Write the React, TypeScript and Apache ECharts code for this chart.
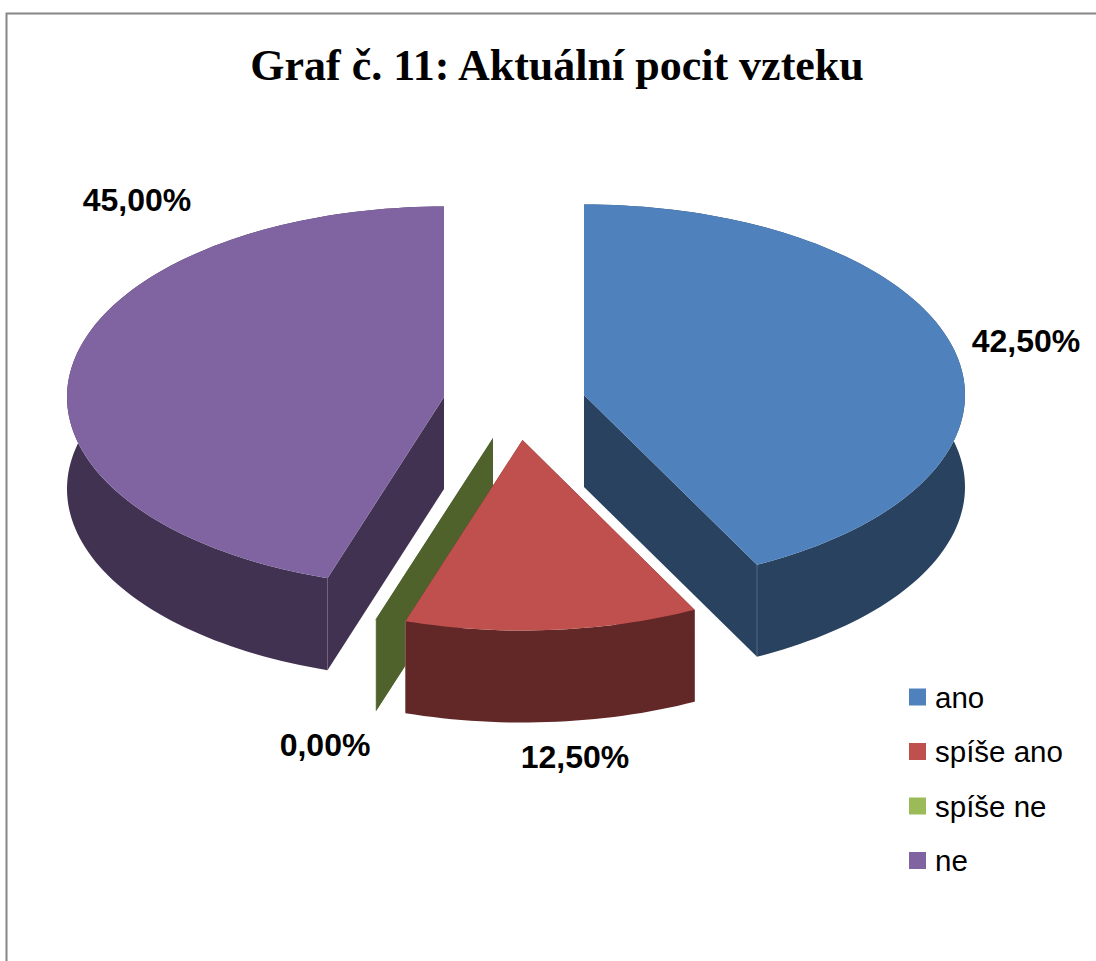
import React, { useEffect, useRef } from "react";
import * as echarts from "echarts";

const titleText = "Graf č. 11: Aktuální pocit vzteku";
const categories = ["ano", "spíše ano", "spíše ne", "ne"];
const shares = [42.5, 12.5, 0, 45];
const topColors = ["#4f81bd", "#c0504d", "#9bbb59", "#8064a2"];
const wallColors = ["#284260", "#622827", "#4f622c", "#423252"];
const apexes = [[584, 395], [522.5, 440], [493, 438], [444, 397]];
const radiiX = [381, 379, 379, 377];
const labelCenters = [[1026, 341], [575, 757], [325, 745], [137, 200]];
const drawOrder = [3, 2, 1, 0];

const RY = 190.5;
const DEPTH = 92;
const total = shares.reduce((a, b) => a + b, 0);

function point(c: number[], rx: number, deg: number, drop = 0) {
  const r = (deg * Math.PI) / 180;
  return [c[0] + rx * Math.sin(r), c[1] - RY * Math.cos(r) + drop];
}

function renderSlice(idx: number) {
  return (_params: any, api: any) => {
    const before = shares.slice(0, idx).reduce((a, b) => a + b, 0);
    const start = echarts.number.linearMap(before, [0, total], [0, 360]);
    const end = echarts.number.linearMap(before + api.value(0), [0, total], [0, 360]);
    const c = apexes[idx];
    const rx = radiiX[idx];
    const steps = Math.max(1, Math.ceil((end - start) / 1.5));
    const arc: number[][] = [];
    const low: number[][] = [];
    for (let i = 0; i <= steps; i++) {
      const a = start + ((end - start) * i) / steps;
      arc.push(point(c, rx, a));
      low.push(point(c, rx, a, DEPTH));
    }
    const wallStyle = { fill: wallColors[idx] };
    const first = arc[0];
    const last = arc[arc.length - 1];
    const wall = (p: number[]) => ({
      type: "polygon",
      shape: { points: [c, p, [p[0], p[1] + DEPTH], [c[0], c[1] + DEPTH]] },
      style: wallStyle,
    });
    const edge = (p: number[]) => ({
      type: "line",
      shape: { x1: p[0], y1: p[1], x2: p[0], y2: p[1] + DEPTH },
      style: { stroke: "rgba(255,255,255,0.22)", lineWidth: 1 },
    });
    const text = `${api.value(0).toFixed(2).replace(".", ",")}%`;
    const children: any[] = [
      wall(first),
      wall(last),
      { type: "polygon", shape: { points: [...arc, ...low.slice().reverse()] }, style: wallStyle },
      edge(last),
    ];
    if (end > start) {
      children.push({
        type: "polygon",
        shape: { points: [c, ...arc] },
        style: { fill: topColors[idx] },
      });
    }
    children.push({
      type: "text",
      x: labelCenters[idx][0],
      y: labelCenters[idx][1],
      style: {
        text,
        fill: "#000",
        align: "center",
        verticalAlign: "middle",
        font: 'bold 32px "Liberation Sans"',
      },
    });
    return { type: "group", children };
  };
}

export default function App() {
  const ref = useRef<HTMLDivElement>(null);
  useEffect(() => {
    const chart = echarts.init(ref.current!, null, { renderer: "svg" });
    chart.setOption({
      animation: false,
      backgroundColor: "#fff",
      title: {
        text: titleText,
        left: 552,
        top: 38,
        textAlign: "center",
        textStyle: { fontFamily: "Liberation Serif", fontWeight: "bold", fontSize: 44, color: "#000" },
      },
      legend: {
        orient: "vertical",
        left: 909,
        top: 682,
        padding: 0,
        itemWidth: 17,
        itemHeight: 17,
        itemGap: 24.5,
        icon: "rect",
        data: categories,
        selectedMode: false,
        textStyle: { fontFamily: "Liberation Sans", fontSize: 29.5, color: "#000", padding: [0, 0, 3, 4] },
      },
      graphic: [
        {
          type: "rect",
          shape: { x: 6.5, y: 13.5, width: 1200, height: 1000 },
          style: { fill: "none", stroke: "#868686", lineWidth: 2 },
          silent: true,
          z: -1,
        },
      ],
      series: drawOrder.map((idx) => ({
        type: "custom",
        name: categories[idx],
        coordinateSystem: "none",
        itemStyle: { color: topColors[idx] },
        data: [[shares[idx]]],
        renderItem: renderSlice(idx),
        silent: true,
      })),
    });
    return () => chart.dispose();
  }, []);
  return (
    <div
      ref={ref}
      style={{ position: "absolute", left: 0, top: 0, width: 1096, height: 961 }}
    />
  );
}
